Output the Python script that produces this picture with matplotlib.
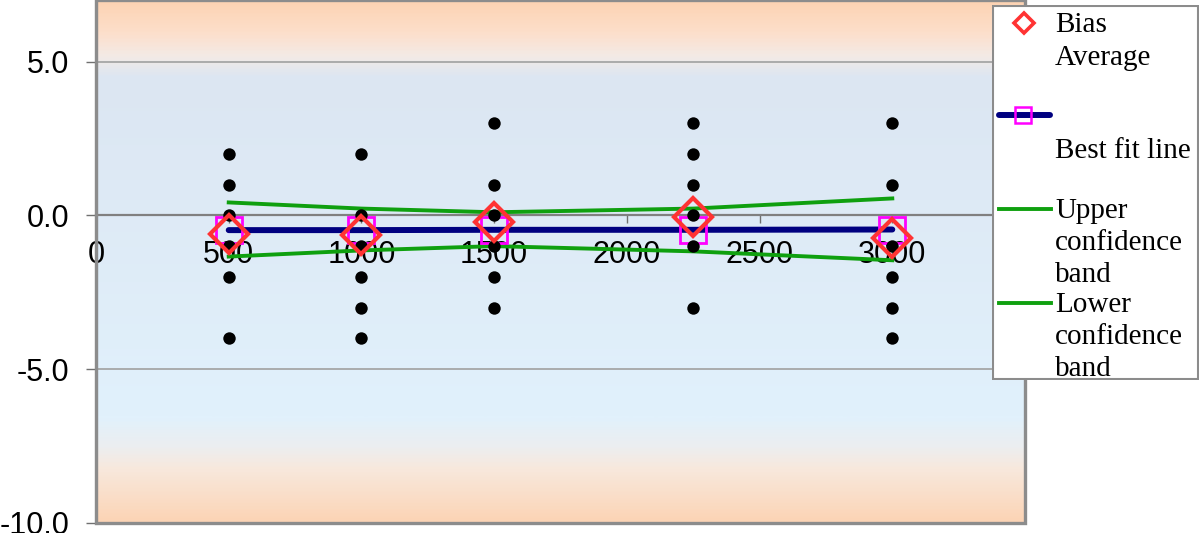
import numpy as np
import matplotlib
matplotlib.use("Agg")
import matplotlib.pyplot as plt
from matplotlib.colors import LinearSegmentedColormap
from matplotlib.patches import Rectangle

# ---- data ----
x_groups = [500, 1000, 1500, 2250, 3000]
bias_values = [
    [2, 1, 0, -1, -2, -4],
    [2, 0, -1, -2, -3, -4],
    [3, 1, 0, -1, -2, -3],
    [3, 2, 1, 0, -1, -3],
    [3, 1, -1, -2, -3, -4],
]
bias_average = [-0.6, -0.65, -0.2, -0.05, -0.75]
best_fit = [-0.48, -0.48, -0.47, -0.47, -0.46]
upper_band = [0.42, 0.22, 0.1, 0.22, 0.55]
lower_band = [-1.34, -1.14, -1.0, -1.17, -1.46]
x_ticks = [0, 500, 1000, 1500, 2000, 2500, 3000]
y_ticks = [5.0, 0.0, -5.0, -10.0]
legend_labels = ["Bias\nAverage", "Best fit line", "Upper\nconfidence\nband", "Lower\nconfidence\nband"]

W, H = 1200, 533
fig = plt.figure(figsize=(W / 100, H / 100), dpi=100)
ax = fig.add_axes([96 / W, (H - 523) / H, (1025 - 96) / W, 523 / H])
ax.set_xlim(0, 3500)
ax.set_ylim(-10, 7)

# gradient background
cmap = LinearSegmentedColormap.from_list("bg", [
    (0.0, "#FCD3B3"), (0.06, "#FDDFCB"), (0.105, "#F3EAE6"), (0.145, "#DCE6F2"),
    (0.80, "#E1F1FC"), (0.856, "#ECEEF0"), (0.90, "#F8E8DC"), (1.0, "#FCD4B5")])
grad = np.linspace(0, 1, 400).reshape(-1, 1)
ax.imshow(grad, extent=[0, 1, 0, 1], transform=ax.transAxes, cmap=cmap,
          aspect="auto", zorder=0, origin="upper", interpolation="bilinear")

# gridlines
for yv in [5, -5]:
    ax.axhline(yv, color="#A6A6A6", lw=1.3, zorder=1)

# spines
for s in ["top", "right"]:
    ax.spines[s].set_visible(False)
ax.spines["left"].set_color("#707070")
ax.spines["left"].set_linewidth(2.2)
ax.spines["bottom"].set_position(("data", 0))
ax.spines["bottom"].set_color("#808080")
ax.spines["bottom"].set_linewidth(1.6)
ax.add_patch(Rectangle((0, 0), 1, 1, transform=ax.transAxes, fill=False,
                       edgecolor="#8C8C8C", lw=2.4, zorder=5, clip_on=False))

ax.set_xticks(x_ticks)
ax.set_xticklabels([str(t) for t in x_ticks])
ax.set_yticks(y_ticks)
ax.set_yticklabels([f"{t:.1f}" for t in y_ticks])
ax.tick_params(axis="x", direction="out", length=6, width=1, color="#707070",
               pad=12, labelsize=22)
ax.tick_params(axis="y", direction="out", length=7, width=1, color="#707070",
               pad=12, labelsize=22)
for lab in ax.get_xticklabels() + ax.get_yticklabels():
    lab.set_fontfamily("Liberation Sans")
for lab in ax.get_xticklabels():
    lab.set_zorder(3)

# data points
for xv, vals in zip(x_groups, bias_values):
    ax.scatter([xv] * len(vals), vals, s=80, color="black", zorder=4, linewidths=0)

ax.plot(x_groups, upper_band, color="#0FA00F", lw=2.8, zorder=3)
ax.plot(x_groups, lower_band, color="#0FA00F", lw=2.8, zorder=3)
ax.plot(x_groups, best_fit, color="#000080", lw=4.3, zorder=3, solid_capstyle="round",
        marker="s", ms=18.5, mfc="none", mec="#FF00FF", mew=2.0)
ax.plot(x_groups, bias_average, linestyle="none", marker="D", ms=19, mfc="none",
        mec="#FF3333", mew=3.0, zorder=6)

# legend (manual, to match layout)
lx0, ly0, lx1, ly1 = 992, 5, 1199, 380
lax = fig.add_axes([lx0 / W, (H - ly1) / H, (lx1 - lx0) / W, (ly1 - ly0) / H])
lax.set_xlim(lx0, lx1)
lax.set_ylim(ly1, ly0)
lax.axis("off")
lax.add_patch(Rectangle((lx0 + 1, ly0 + 1), lx1 - lx0 - 2, ly1 - ly0 - 2, facecolor="white",
                        edgecolor="#8C8C8C", lw=1.5))
handle_y = [23, 115, 209, 303]
text_y = [26, 151, 212, 306]
line_step = 31
for i, lab in enumerate(legend_labels):
    hy = handle_y[i]
    if i == 0:
        lax.plot([1024], [hy], marker="D", ms=10.5, mfc="none", mec="#FF3333", mew=2.6)
    elif i == 1:
        lax.plot([999, 1050], [hy, hy], color="#000080", lw=4.3, solid_capstyle="round")
        lax.plot([1023], [hy], marker="s", ms=12, mfc="none", mec="#FF00FF", mew=1.8)
    else:
        lax.plot([999, 1051], [hy, hy], color="#0FA00F", lw=2.8)
    n = lab.count("\n")
    lax.text(1055, text_y[i] + n * line_step / 2, lab, va="center", ha="left",
             family="Liberation Serif", fontsize=21, linespacing=1.32)

fig.savefig("out.png", dpi=100)
